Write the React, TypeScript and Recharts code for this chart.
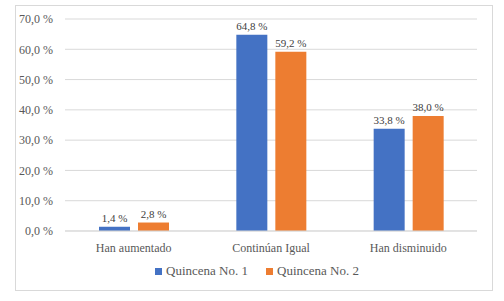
import { BarChart, Bar, XAxis, YAxis, CartesianGrid, Legend, LabelList } from 'recharts'

const categories = ['Han aumentado', 'Continúan Igual', 'Han disminuido']
const quincena1 = [1.4, 64.8, 33.8]
const quincena2 = [2.8, 59.2, 38.0]
const yTicks = [0, 10, 20, 30, 40, 50, 60, 70]

const data = categories.map((name, i) => ({ name, q1: quincena1[i], q2: quincena2[i] }))

const FONT = 'Liberation Serif'
const pct = (v: any) => `${Number(v).toFixed(1).replace('.', ',')} %`

// plain svg text so the label does not wrap to the bar width
const renderLabel = (props: any) => {
  const { x, y, width, value } = props
  return (
    <text
      x={Number(x) + Number(width) / 2}
      y={Number(y) - 5}
      textAnchor="middle"
      fill="#404040"
      fontSize={11}
      fontFamily={FONT}
    >
      {pct(value)}
    </text>
  )
}

export default function App() {
  return (
    <div style={{ position: 'fixed', top: 0, left: 0, width: 504, height: 301, background: '#fff', fontFamily: FONT }}>
      <div
        style={{
          position: 'absolute',
          left: 15,
          top: 5,
          width: 476,
          height: 284,
          border: '1px solid #d9d9d9',
        }}
      />
      <BarChart
        width={504}
        height={301}
        data={data}
        margin={{ top: 19, right: 27, left: 15, bottom: 5 }}
        barSize={31}
        barGap={8}
        style={{ fontFamily: FONT }}
      >
        <CartesianGrid vertical={false} stroke="#d9d9d9" />
        <XAxis
          dataKey="name"
          height={30}
          tickLine={false}
          axisLine={{ stroke: '#d9d9d9' }}
          tick={{ fill: '#595959', fontSize: 12, fontFamily: FONT }}
          tickMargin={6}
        />
        <YAxis
          width={50}
          domain={[0, 70]}
          ticks={yTicks}
          tickFormatter={pct}
          axisLine={false}
          tickLine={false}
          tick={{ fill: '#595959', fontSize: 12, fontFamily: FONT }}
          tickMargin={6}
        />
        <Legend
          verticalAlign="bottom"
          height={35}
          iconType="square"
          iconSize={7}
          wrapperStyle={{ fontFamily: FONT, left: 35 }}
          formatter={(value) => (
            <span style={{ color: '#595959', fontSize: 13, fontFamily: FONT, marginRight: 8 }}>{value}</span>
          )}
        />
        <Bar dataKey="q1" name="Quincena No. 1" fill="#4472C4" isAnimationActive={false}>
          <LabelList dataKey="q1" content={renderLabel} />
        </Bar>
        <Bar dataKey="q2" name="Quincena No. 2" fill="#ED7D31" isAnimationActive={false}>
          <LabelList dataKey="q2" content={renderLabel} />
        </Bar>
      </BarChart>
    </div>
  )
}
